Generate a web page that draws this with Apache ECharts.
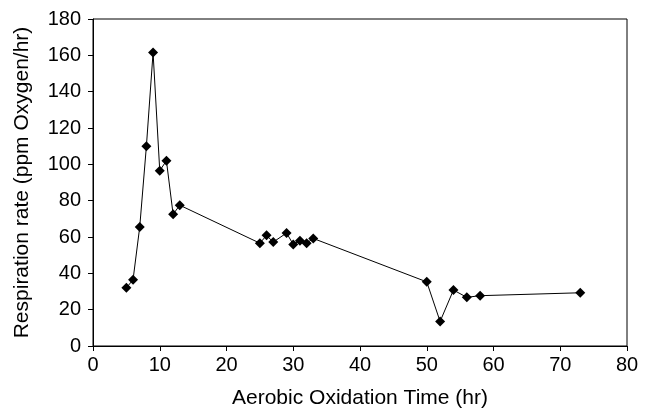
<!DOCTYPE html>
<html>
<head>
<meta charset="utf-8">
<script src="https://cdn.jsdelivr.net/npm/echarts@6/dist/echarts.min.js"></script>
<style>
  html, body { margin: 0; padding: 0; background: #fff; }
  #chart { width: 647px; height: 410px; }
</style>
</head>
<body>
<div id="chart"></div>
<script>
  // time (hr) and respiration rate (ppm oxygen/hr)
  const hours = [5, 6, 7, 8, 9, 10, 11, 12, 13, 25, 26, 27, 29, 30, 31, 32, 33, 50, 52, 54, 56, 58, 73];
  const rates = [32, 36.5, 65.5, 110, 161.5, 96.5, 102, 72.5, 77.5, 56.6, 60.9, 57.2, 62.2, 55.9, 58, 56.6, 59.2, 35.3, 13.5, 30.8, 26.8, 27.7, 29.3];

  const myChart = echarts.init(document.getElementById('chart'));
  const font = 'Liberation Sans, Arial, sans-serif';

  const points = hours.map((h, i) => [h, rates[i]]);

  const options = {
    animation: false,
    grid: {
      left: 93,
      right: 20,
      top: 19,
      bottom: 64,
      outerBoundsMode: 'none',
      show: true,
      borderColor: '#000',
      borderWidth: 1,
    },
    xAxis: {
      type: 'value',
      min: 0,
      max: 80,
      interval: 10,
      name: 'Aerobic Oxidation Time (hr)',
      nameLocation: 'middle',
      nameGap: 42,
      nameTextStyle: { color: '#000', fontSize: 21, fontFamily: font },
      axisLine: { show: true, lineStyle: { color: '#000', width: 1 } },
      axisTick: { show: true, length: 5, lineStyle: { color: '#000' } },
      axisLabel: { color: '#000', fontSize: 20, fontFamily: font, margin: 9 },
      splitLine: { show: false },
    },
    yAxis: {
      type: 'value',
      min: 0,
      max: 180,
      interval: 20,
      name: 'Respiration rate (ppm Oxygen/hr)',
      nameLocation: 'middle',
      nameGap: 60,
      nameTextStyle: { color: '#000', fontSize: 21, fontFamily: font },
      axisLine: { show: true, lineStyle: { color: '#000', width: 1 } },
      axisTick: { show: true, length: 5, lineStyle: { color: '#000' } },
      axisLabel: { color: '#000', fontSize: 20, fontFamily: font, margin: 12 },
      splitLine: { show: false },
    },
    series: [
      {
        type: 'line',
        data: points,
        symbol: 'diamond',
        symbolSize: 10,
        itemStyle: { color: '#000' },
        lineStyle: { color: '#000', width: 1 },
      },
    ],
  };

  myChart.setOption(options);
</script>
</body>
</html>
